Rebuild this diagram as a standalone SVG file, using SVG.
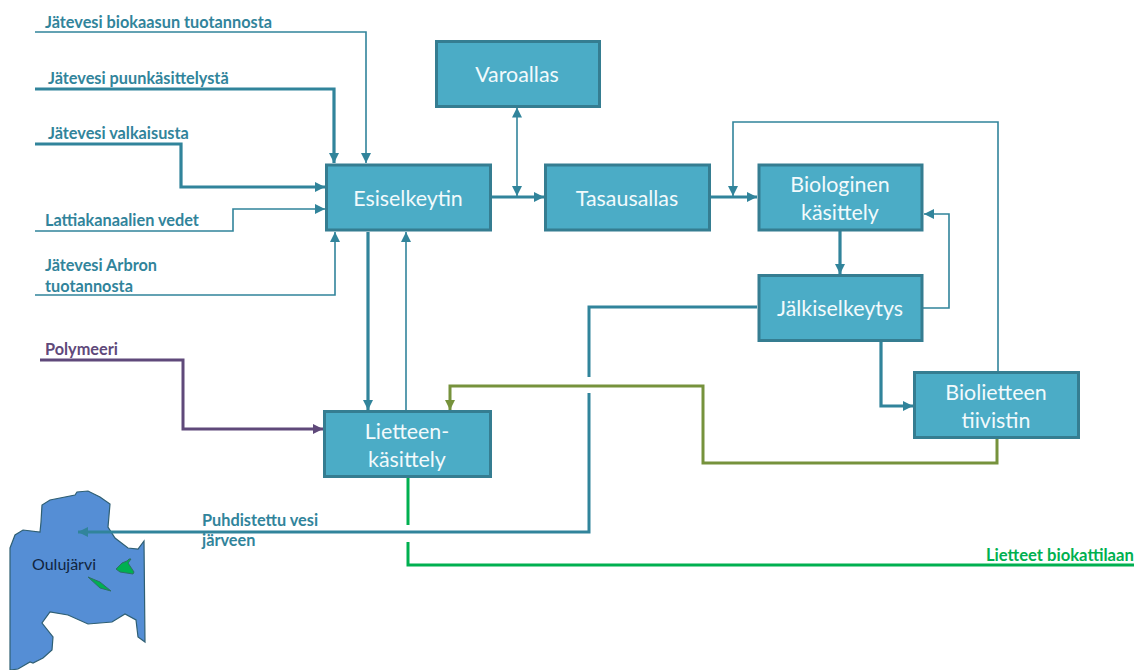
<svg xmlns="http://www.w3.org/2000/svg" width="1134" height="670" viewBox="0 0 1134 670">
<style>
.box{fill:#4bacc6;stroke:#357d91;stroke-width:3}
.t{font-family:Lato,"Liberation Sans",sans-serif;font-size:21.400px;fill:#f2fafc;text-anchor:middle}
.l{font-family:Lato,"Liberation Sans",sans-serif;font-size:16.300px;font-weight:700;fill:#31849b}
.c{fill:none;stroke:#31849b;stroke-linejoin:miter}
.w1{stroke-width:1.600}.w2{stroke-width:3.200}
</style>
<defs>
<marker id="a" viewBox="0 0 10 10" refX="10" refY="5" markerWidth="10" markerHeight="10" markerUnits="userSpaceOnUse" orient="auto-start-reverse"><path d="M0 0L10 5L0 10z" fill="#31849b"/></marker>
<marker id="ap" viewBox="0 0 10 10" refX="10" refY="5" markerWidth="10" markerHeight="10" markerUnits="userSpaceOnUse" orient="auto"><path d="M0 0L10 5L0 10z" fill="#5f497a"/></marker>
<marker id="ag" viewBox="0 0 10 10" refX="10" refY="5" markerWidth="10" markerHeight="10" markerUnits="userSpaceOnUse" orient="auto"><path d="M0 0L10 5L0 10z" fill="#76923c"/></marker>
</defs>
<g id="lake">
<path d="M10 548L15 535L23 530L40 532L41 522L42 505L50 500L75 495L77 492L88 491L100 497L110 504L108 527L115 538L128 548L138 549L144 541L145 642L138 637L136 620L125 614L112 622L88 624L68 615L50 612L42 623L53 637L52 650L43 658L33 663L30 662L18 669L10 670Z" fill="#558ed5" stroke="#2f5f73" stroke-width="1.200"/>
<path d="M116 569L122 563L127 561L129 559L131 559L128 563L134 572L133 574L120 572Z" fill="#00b050" stroke="#2f6f66" stroke-width="1"/>
<path d="M88 577L100 582L111 591L100 588Z" fill="#00b050" stroke="#2f6f66" stroke-width="1"/>
<text x="32" y="570" font-family="Lato,'Liberation Sans',sans-serif" font-size="16" fill="#10243e">Oulujärvi</text>
</g>
<g id="connectors">
<path class="c w1" d="M35 32H366V163" marker-end="url(#a)"/>
<path class="c w2" d="M35 89H334V163" marker-end="url(#a)"/>
<path class="c w2" d="M35 144H181V187H325" marker-end="url(#a)"/>
<path class="c w1" d="M35 231H233V209H325" marker-end="url(#a)"/>
<path class="c w1" d="M35 295H335V232" marker-end="url(#a)"/>
<path class="c" stroke-width="3" d="M40 360H183V429H323" style="stroke:#5f497a" marker-end="url(#ap)"/>
<path class="c w2" d="M368 232V410" marker-end="url(#a)"/>
<path class="c w1" d="M406 411V232" marker-end="url(#a)"/>
<path class="c w1" d="M517 107.500V196" marker-start="url(#a)" marker-end="url(#a)"/>
<path class="c w2" d="M492 197H544" marker-end="url(#a)"/>
<path class="c w2" d="M711 197H757" marker-end="url(#a)"/>
<path class="c w1" d="M998 372V122H733V196" marker-end="url(#a)"/>
<path class="c w2" d="M840 231V274" marker-end="url(#a)"/>
<path class="c w1" d="M923 308H949V214H924" marker-end="url(#a)"/>
<path class="c w2" d="M881 342V406H913" marker-end="url(#a)"/>
<path class="c" stroke-width="3" d="M997 439V463H703V386H450V410" style="stroke:#76923c" marker-end="url(#ag)"/>
<path class="c" stroke-width="3" d="M757 307H589V377M589 393V532H78" marker-end="url(#a)"/>
<path class="c" stroke-width="3" d="M408 478V525M408 542V565H1134" style="stroke:#00b050"/>
</g>
<g id="varoallas"><rect class="box" x="436.500" y="41.500" width="163" height="65"/><text class="t" x="517" y="82">Varoallas</text></g>
<g id="esiselkeytin"><rect class="box" x="326.500" y="165" width="164" height="65"/><text class="t" x="408" y="205.500">Esiselkeytin</text></g>
<g id="tasausallas"><rect class="box" x="545.500" y="165" width="164" height="65"/><text class="t" x="627" y="205.500">Tasausallas</text></g>
<g id="biologinen"><rect class="box" x="759" y="165" width="163" height="65"/><text class="t" x="840" y="192">Biologinen</text><text class="t" x="840" y="220">käsittely</text></g>
<g id="jalkiselkeytys"><rect class="box" x="759" y="275.500" width="163" height="65"/><text class="t" x="840" y="316">Jälkiselkeytys</text></g>
<g id="biolietteen"><rect class="box" x="914.500" y="372.500" width="164" height="65"/><text class="t" x="996" y="400">Biolietteen</text><text class="t" x="996" y="428">tiivistin</text></g>
<g id="lietteen"><rect class="box" x="324.500" y="411.500" width="166" height="65"/><text class="t" x="407" y="438.500">Lietteen-</text><text class="t" x="407" y="467">käsittely</text></g>
<g id="labels">
<text class="l" x="45" y="28">Jätevesi biokaasun tuotannosta</text>
<text class="l" x="48" y="84">Jätevesi puunkäsittelystä</text>
<text class="l" x="48" y="139">Jätevesi valkaisusta</text>
<text class="l" x="45" y="226">Lattiakanaalien vedet</text>
<text class="l" x="45" y="271">Jätevesi Arbron</text>
<text class="l" x="45" y="292">tuotannosta</text>
<text class="l" x="45" y="355" style="fill:#5f497a">Polymeeri</text>
<text class="l" x="202" y="526">Puhdistettu vesi</text>
<text class="l" x="202" y="546">järveen</text>
<text class="l" x="986" y="561" style="fill:#00b050;font-size:16.600px">Lietteet biokattilaan</text>
</g>
</svg>
